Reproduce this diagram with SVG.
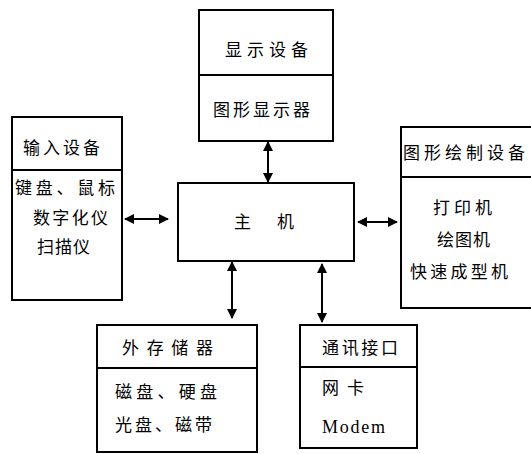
<svg xmlns="http://www.w3.org/2000/svg" width="531" height="454" viewBox="0 0 531 454">
<style>
.b{fill:none;stroke:#000;stroke-width:2}
.t{font-family:"Noto Sans CJK SC","Noto Sans",sans-serif;font-size:17px;fill:#000}
.m{font-family:"Liberation Serif",serif;font-size:18px;fill:#000}
.c{stroke:#000;stroke-width:2;fill:none;marker-start:url(#a);marker-end:url(#a)}
</style>
<defs>
<marker id="a" viewBox="0 0 10 10" refX="9" refY="5" markerWidth="5" markerHeight="5" orient="auto-start-reverse" markerUnits="strokeWidth">
<path d="M0,0L10,5L0,10z" fill="#000"/>
</marker>
</defs>
<rect width="531" height="454" fill="#fff"/>
<g id="display">
<rect class="b" x="199" y="10" width="134" height="131"/>
<line class="b" x1="199" y1="75" x2="333" y2="75"/>
<text class="t" x="225" y="56" textLength="83" lengthAdjust="spacing">显示设备</text>
<text class="t" x="213" y="116" textLength="97" lengthAdjust="spacing">图形显示器</text>
</g>
<g id="input">
<rect class="b" x="12" y="117" width="110" height="183"/>
<line class="b" x1="12" y1="170" x2="122" y2="170"/>
<text class="t" x="23" y="154" textLength="77" lengthAdjust="spacing">输入设备</text>
<text class="t" x="15" y="194" textLength="100" lengthAdjust="spacing">键盘、鼠标</text>
<text class="t" x="33" y="224" textLength="75" lengthAdjust="spacing">数字化仪</text>
<text class="t" x="37" y="253" textLength="53" lengthAdjust="spacing">扫描仪</text>
</g>
<g id="host">
<rect class="b" x="178" y="183" width="176" height="78"/>
<text class="t" x="234" y="228">主</text>
<text class="t" x="277" y="228">机</text>
</g>
<g id="plot">
<rect class="b" x="401" y="127" width="140" height="181"/>
<line class="b" x1="401" y1="177" x2="531" y2="177"/>
<text class="t" x="403" y="159" textLength="122" lengthAdjust="spacing">图形绘制设备</text>
<text class="t" x="433" y="214" textLength="59" lengthAdjust="spacing">打印机</text>
<text class="t" x="437" y="246" textLength="53" lengthAdjust="spacing">绘图机</text>
<text class="t" x="410" y="278" textLength="98" lengthAdjust="spacing">快速成型机</text>
</g>
<g id="storage">
<rect class="b" x="97" y="325" width="160" height="127"/>
<line class="b" x1="97" y1="368" x2="257" y2="368"/>
<text class="t" x="122" y="354" textLength="91" lengthAdjust="spacing">外存储器</text>
<text class="t" x="115" y="398" textLength="102" lengthAdjust="spacing">磁盘、硬盘</text>
<text class="t" x="115" y="431" textLength="97" lengthAdjust="spacing">光盘、磁带</text>
</g>
<g id="comm">
<rect class="b" x="300" y="325" width="117" height="123"/>
<line class="b" x1="300" y1="367" x2="417" y2="367"/>
<text class="t" x="322" y="354" textLength="76" lengthAdjust="spacing">通讯接口</text>
<text class="t" x="322" y="394" textLength="42" lengthAdjust="spacing">网卡</text>
<text class="m" x="322" y="433" textLength="63" lengthAdjust="spacing">Modem</text>
</g>
<g id="connectors">
<line class="c" x1="268" y1="142" x2="268" y2="182"/>
<line class="c" x1="125" y1="219" x2="168" y2="219"/>
<line class="c" x1="358" y1="222" x2="397" y2="222"/>
<line class="c" x1="232" y1="262" x2="232" y2="318"/>
<line class="c" x1="322" y1="264" x2="322" y2="322"/>
</g>
</svg>
